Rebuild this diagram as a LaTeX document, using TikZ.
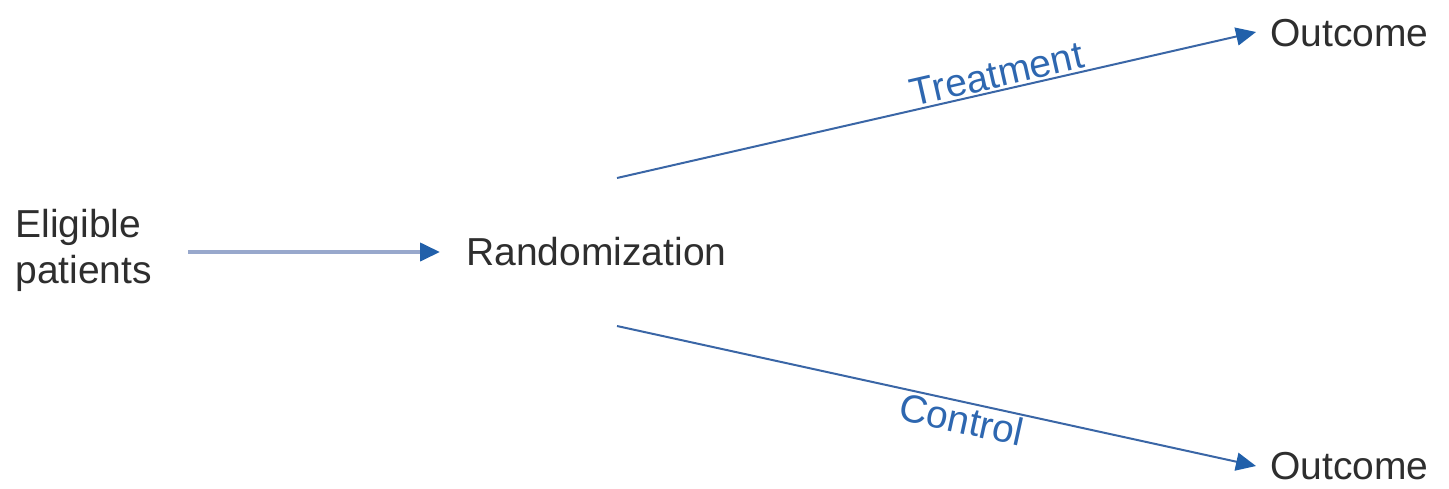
\documentclass[tikz,border=0pt]{standalone}
\usepackage{fontspec}
\setmainfont{Liberation Sans}
\usetikzlibrary{arrows.meta}
\definecolor{arrowblue}{HTML}{2160AA}
\definecolor{lineblue}{HTML}{3A66A6}
\definecolor{lightline}{HTML}{98A8CC}
\definecolor{labelblue}{HTML}{2E67B0}
\definecolor{txt}{HTML}{2E2E2E}
\begin{document}
\begin{tikzpicture}[x=0.5pt,y=-0.5pt,
  lbl/.style={text=txt,font=\fontsize{19.5}{24}\selectfont,inner sep=0pt},
  conn/.style={line width=1pt,draw=lineblue,-{Triangle[length=10pt,width=9pt,fill=arrowblue,color=arrowblue]}},
  edgelbl/.style={text=labelblue,font=\fontsize{19.5}{23}\selectfont,sloped,inner sep=1pt}]
\useasboundingbox (0,0) rectangle (1449,488);
\node[lbl,align=left,anchor=west] (elig) at (15,250) {Eligible\\[-1pt]patients};
\node[lbl,anchor=west] (rand) at (466,252) {Randomization};
\node[lbl,anchor=west] (out1) at (1270,33) {Outcome};
\node[lbl,anchor=west] (out2) at (1270,466) {Outcome};
\coordinate (a1) at (188,252);
\coordinate (a2) at (440,252);
\coordinate (t1) at (617,178);
\coordinate (c1) at (617,326);
\coordinate (t2) at (1256,32);
\coordinate (c2) at (1256,466);
\draw[conn,draw=lightline,line width=2pt] (a1) -- (a2);
\draw[conn] (t1) -- node[edgelbl,above,pos=0.6] {Treatment} (t2);
\draw[conn] (c1) -- node[edgelbl,below,pos=0.545] {Control} (c2);
\end{tikzpicture}
\end{document}
